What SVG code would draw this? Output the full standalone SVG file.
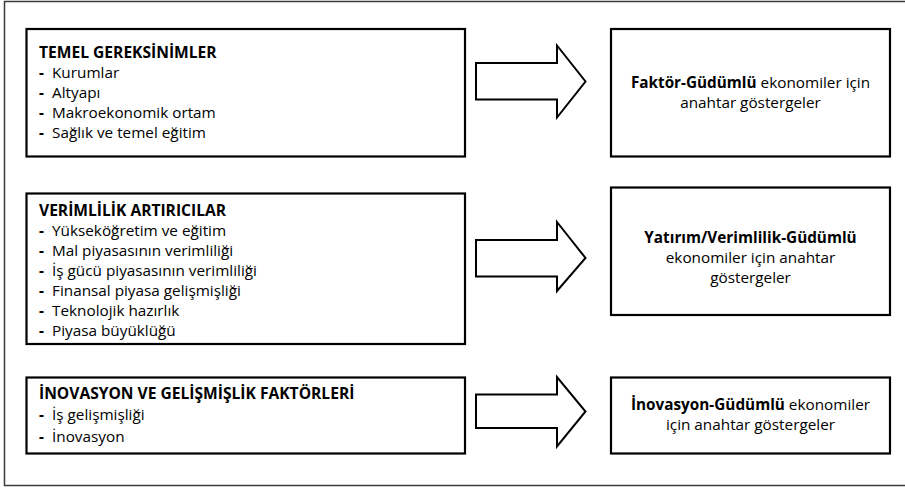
<svg xmlns="http://www.w3.org/2000/svg" width="905" height="490" viewBox="0 0 905 490">
  <style>
    .frame { fill: none; stroke: #3a3a3a; stroke-width: 1.5; }
    .box { fill: #ffffff; stroke: #000000; stroke-width: 2.2; }
    .arrow { fill: #ffffff; stroke: #000000; stroke-width: 2; stroke-linejoin: miter; }
    text { font-family: "Open Sans", "Noto Sans", "Liberation Sans", sans-serif; font-size: 15.3px; fill: #000000; }
    .head { font-weight: bold; font-size: 15.6px; }
    .b { font-weight: bold; }
    .c { text-anchor: middle; }
    .dash { font-weight: bold; }
  </style>

  <rect width="905" height="490" fill="#ffffff"/>
  <!-- outer frame, open to the right edge -->
  <rect class="frame" x="4.5" y="1.5" width="910" height="484"/>

  <!-- pillar groups -->
  <g id="temel">
    <rect class="box" x="26.5" y="29" width="438.5" height="127.5"/>
    <text class="head" x="39" y="58">TEMEL GEREKSİNİMLER</text>
    <text class="dash" x="39" y="78">-</text><text x="52" y="78">Kurumlar</text>
    <text class="dash" x="39" y="98">-</text><text x="52" y="98">Altyapı</text>
    <text class="dash" x="39" y="118">-</text><text x="52" y="118">Makroekonomik ortam</text>
    <text class="dash" x="39" y="138">-</text><text x="52" y="138">Sağlık ve temel eğitim</text>
  </g>

  <g id="verimlilik">
    <rect class="box" x="26.5" y="193.5" width="438.5" height="150.5"/>
    <text class="head" x="39" y="216">VERİMLİLİK ARTIRICILAR</text>
    <text class="dash" x="39" y="236">-</text><text x="52" y="236">Yükseköğretim ve eğitim</text>
    <text class="dash" x="39" y="256">-</text><text x="52" y="256">Mal piyasasının verimliliği</text>
    <text class="dash" x="39" y="276">-</text><text x="52" y="276">İş gücü piyasasının verimliliği</text>
    <text class="dash" x="39" y="296">-</text><text x="52" y="296">Finansal piyasa gelişmişliği</text>
    <text class="dash" x="39" y="316">-</text><text x="52" y="316">Teknolojik hazırlık</text>
    <text class="dash" x="39" y="336">-</text><text x="52" y="336">Piyasa büyüklüğü</text>
  </g>

  <g id="inovasyon">
    <rect class="box" x="26.5" y="377.5" width="438.5" height="76"/>
    <text class="head" x="39" y="399">İNOVASYON VE GELİŞMİŞLİK FAKTÖRLERİ</text>
    <text class="dash" x="39" y="420">-</text><text x="52" y="420">İş gelişmişliği</text>
    <text class="dash" x="39" y="442">-</text><text x="52" y="442">İnovasyon</text>
  </g>

  <!-- stage groups -->
  <g id="faktor">
    <rect class="box" x="611" y="29" width="279" height="127.5"/>
    <text class="c" x="750.5" y="88"><tspan class="b">Faktör-Güdümlü</tspan> ekonomiler için</text>
    <text class="c" x="750.5" y="108">anahtar göstergeler</text>
  </g>

  <g id="yatirim">
    <rect class="box" x="611" y="187.5" width="279" height="127.5"/>
    <text class="c b" x="750.5" y="243">Yatırım/Verimlilik-Güdümlü</text>
    <text class="c" x="750.5" y="263">ekonomiler için anahtar</text>
    <text class="c" x="750.5" y="283">göstergeler</text>
  </g>

  <g id="inovasyon-gudumlu">
    <rect class="box" x="611" y="377.5" width="279" height="76"/>
    <text class="c" x="750.5" y="410"><tspan class="b">İnovasyon-Güdümlü</tspan> ekonomiler</text>
    <text class="c" x="750.5" y="430">için anahtar göstergeler</text>
  </g>

  <!-- block arrows -->
  <g id="connectors">
    <path class="arrow" d="M476,63 H557 V45.5 L585.5,81.5 L557,117.5 V99.5 H476 Z"/>
    <path class="arrow" d="M476,240 H557 V222 L585.5,258 L557,291 V276.5 H476 Z"/>
    <path class="arrow" d="M476,394.5 H557 V377 L585.5,411.5 L557,446.5 V428 H476 Z"/>
  </g>
</svg>
